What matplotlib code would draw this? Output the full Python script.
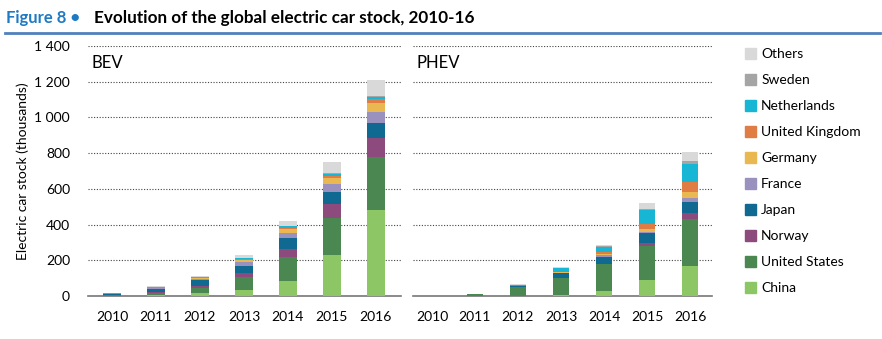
import matplotlib.pyplot as plt
from matplotlib.ticker import FuncFormatter, MultipleLocator
from matplotlib.patches import Patch
import numpy as np

plt.rcParams['font.family'] = ['Lato', 'DejaVu Sans']

years = ['2010', '2011', '2012', '2013', '2014', '2015', '2016']
countries = ['China', 'United States', 'Norway', 'Japan', 'France',
             'Germany', 'United Kingdom', 'Netherlands', 'Sweden', 'Others']
colors = ['#8cc665', '#4a8751', '#8d4a7d', '#0f6990', '#9b91bf',
          '#e9b850', '#df7d45', '#17b6d4', '#a5a5a6', '#d9d9d9']

# stock in thousands, one list per country, 2010..2016
bev = {
    'China':          [1, 5, 15, 34, 84, 228, 481],
    'United States':  [4, 14, 31, 70, 136, 207, 299],
    'Norway':         [3, 4, 12, 23, 41, 78, 103],
    'Japan':          [4, 18, 30, 43, 62, 69, 84],
    'France':         [1, 3, 9, 19, 28, 43, 65],
    'Germany':        [0.5, 2, 5, 12, 22, 34, 47],
    'United Kingdom': [1, 2, 3, 6, 10, 15, 22],
    'Netherlands':    [0.3, 1, 2, 4, 7, 9, 15],
    'Sweden':         [0.2, 0.5, 1, 2, 2, 5, 6],
    'Others':         [2, 6, 6, 16, 28, 61, 87],
}
phev = {
    'China':          [0, 0.5, 1, 4, 30, 90, 168],
    'United States':  [0.3, 8, 48, 95, 149, 190, 263],
    'Norway':         [0, 0, 0.5, 2, 2, 15, 36],
    'Japan':          [0, 0.2, 6, 26, 39, 56, 61],
    'France':         [0, 0, 0.5, 2, 8, 7, 19],
    'Germany':        [0, 0, 0.5, 3, 7, 17, 35],
    'United Kingdom': [0, 0, 1, 3, 10, 28, 55],
    'Netherlands':    [0, 0.3, 5, 21, 31, 78, 102],
    'Sweden':         [0, 0, 1, 3, 5, 4, 17],
    'Others':         [0.1, 0.5, 6, 3, 5, 34, 52],
}

fig = plt.figure(figsize=(8.82, 3.39), dpi=100)

# header
fig.text(0.007, 0.948, 'Figure 8 \u2022', color='#1f7ac4', fontsize=12,
         fontweight='bold', va='center')
fig.text(0.107, 0.948, 'Evolution of the global electric car stock, 2010-16',
         color='black', fontsize=12.3, fontweight='bold', va='center')
fig.add_artist(plt.Line2D([0.006, 0.998], [0.902, 0.902], color='#4f81bd', lw=2))

ax1 = fig.add_axes([88 / 882, 43 / 339, 313 / 882, 250 / 339])
ax2 = fig.add_axes([413 / 882, 43 / 339, 299 / 882, 250 / 339])


def draw_panel(ax, data, name, xlim):
    x = np.arange(len(years))
    bottom = np.zeros(len(years))
    for c, col in zip(countries, colors):
        vals = np.array(data[c], dtype=float)
        ax.bar(x, vals, 0.39, bottom=bottom, color=col, label=c, zorder=3)
        bottom += vals
    ax.set_xlim(*xlim)
    ax.set_ylim(0, 1400)
    ax.yaxis.set_major_locator(MultipleLocator(200))
    ax.set_xticks(x)
    ax.set_xticklabels(years, fontsize=10)
    ax.grid(axis='y', color='#444444', linestyle=(0, (1, 1.5)), lw=0.8, zorder=0)
    for s in ['top', 'right', 'left']:
        ax.spines[s].set_visible(False)
    ax.spines['bottom'].set_color('#777777')
    ax.spines['bottom'].set_linewidth(1.2)
    ax.tick_params(axis='both', length=0, pad=11)
    ax.text(0.012, 0.93, name, transform=ax.transAxes, fontsize=12, va='center')


draw_panel(ax1, bev, 'BEV', (-0.545, 6.57))
draw_panel(ax2, phev, 'PHEV', (-0.44, 6.51))

ax1.yaxis.set_major_formatter(FuncFormatter(lambda v, p: f'{int(v):,}'.replace(',', ' ')))
ax1.tick_params(axis='y', labelsize=10, pad=13)
ax1.set_ylabel('Electric car stock (thousands)', fontsize=10, labelpad=4)
ax2.set_yticklabels([])

handles = [Patch(color=col) for col in colors][::-1]
fig.legend(handles, countries[::-1], loc='upper left',
           bbox_to_anchor=(0.83, 0.895), frameon=False, fontsize=10,
           handlelength=0.8, handleheight=0.8, handletextpad=0.4,
           labelspacing=1.0)

fig.savefig('out.png', dpi=100)
